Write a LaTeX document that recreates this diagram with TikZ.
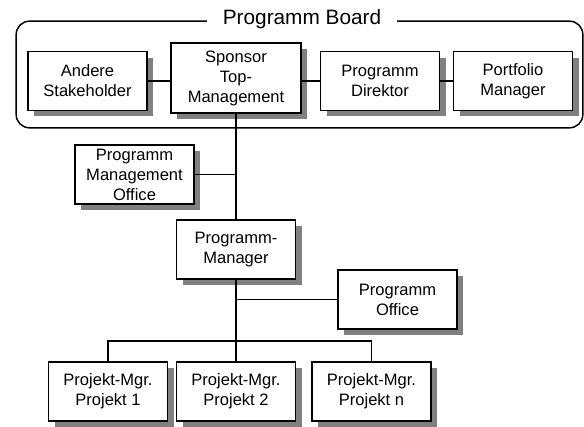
\documentclass[tikz,border=0pt]{standalone}
\usepackage{fontspec}
\setmainfont{Liberation Sans}
\usetikzlibrary{positioning}

\definecolor{shadowgray}{RGB}{128,128,128}

\tikzset{
    orgbox/.style={draw, line width=1.1pt, fill=white, align=center, inner sep=1pt,
        minimum width=89pt, minimum height=44pt},
    boxshadow/.style={fill=shadowgray, draw=none},
    boardframe/.style={draw, line width=1.1pt, rounded corners=10pt,
        minimum width=425pt, minimum height=80pt},
    boardtitle/.style={fill=white, inner xsep=12pt, inner ysep=1pt,
        font=\fontsize{15.6pt}{18pt}\selectfont},
    link/.style={line width=1pt},
}

\begin{document}
\begin{tikzpicture}[x=0.75pt, y=-0.75pt,
    every node/.append style={font=\fontsize{12.4pt}{15pt}\selectfont}]
    \useasboundingbox (0,0) rectangle (584,426);

    % Programm Board
    \node[boardframe] (board) at (299.5,74.5) {};

    % Shadows (6px right and down)
    \foreach \cx/\cy in {87.5/81, 380/81, 513/81, 134.5/174.5, 236/249.5,
                         397.5/299.5, 108/391.5, 236/391.5, 371.5/391.5} {
        \fill[boxshadow] (\cx-53.5,\cy-23.25) rectangle (\cx+65.5,\cy+35.25);
    }
    \fill[boxshadow] (177,49) rectangle (307,119);

    \node[boardtitle] (title) at (302,19) {Programm Board};

    \node[orgbox] (andere) at (87.5,81) {Andere\\Stakeholder};
    \node[orgbox, minimum width=97.5pt, minimum height=52.5pt] (sponsor) at (236,78) {Sponsor\\Top-\\Management};
    \node[orgbox] (direktor) at (380,81) {Programm\\Direktor};
    \node[orgbox] (portfolio) at (513,81) {Portfolio\\Manager};

    % Programm
    \node[orgbox] (pmo) at (134.5,174.5) {Programm\\Management\\Office};
    \node[orgbox] (pm) at (236,249.5) {Programm-\\Manager};
    \node[orgbox] (po) at (397.5,299.5) {Programm\\Office};

    % Projekte
    \node[orgbox] (p1) at (108,391.5) {Projekt-Mgr.\\Projekt 1};
    \node[orgbox] (p2) at (236,391.5) {Projekt-Mgr.\\Projekt 2};
    \node[orgbox] (pn) at (371.5,391.5) {Projekt-Mgr.\\Projekt n};
    \coordinate (bus) at (236,341);

    % Lines
    \draw[link] (andere.east) -- (andere.east -| sponsor.west);
    \draw[link] (sponsor.east |- direktor.west) -- (direktor.west);
    \draw[link] (direktor.east) -- (portfolio.west);
    \draw[link] (sponsor.south) -- (pm.north);
    \draw[link] (pmo.east) -- (pmo.east -| sponsor.south);
    \draw[link, line width=1.6pt] (pm.south) -- (bus);
    \draw[link] (bus) -- (p2.north);
    \draw[link] (po.west) -- (po.west -| pm.south);
    \draw[link] (p1.north) |- (bus) -| (pn.north);
\end{tikzpicture}
\end{document}
